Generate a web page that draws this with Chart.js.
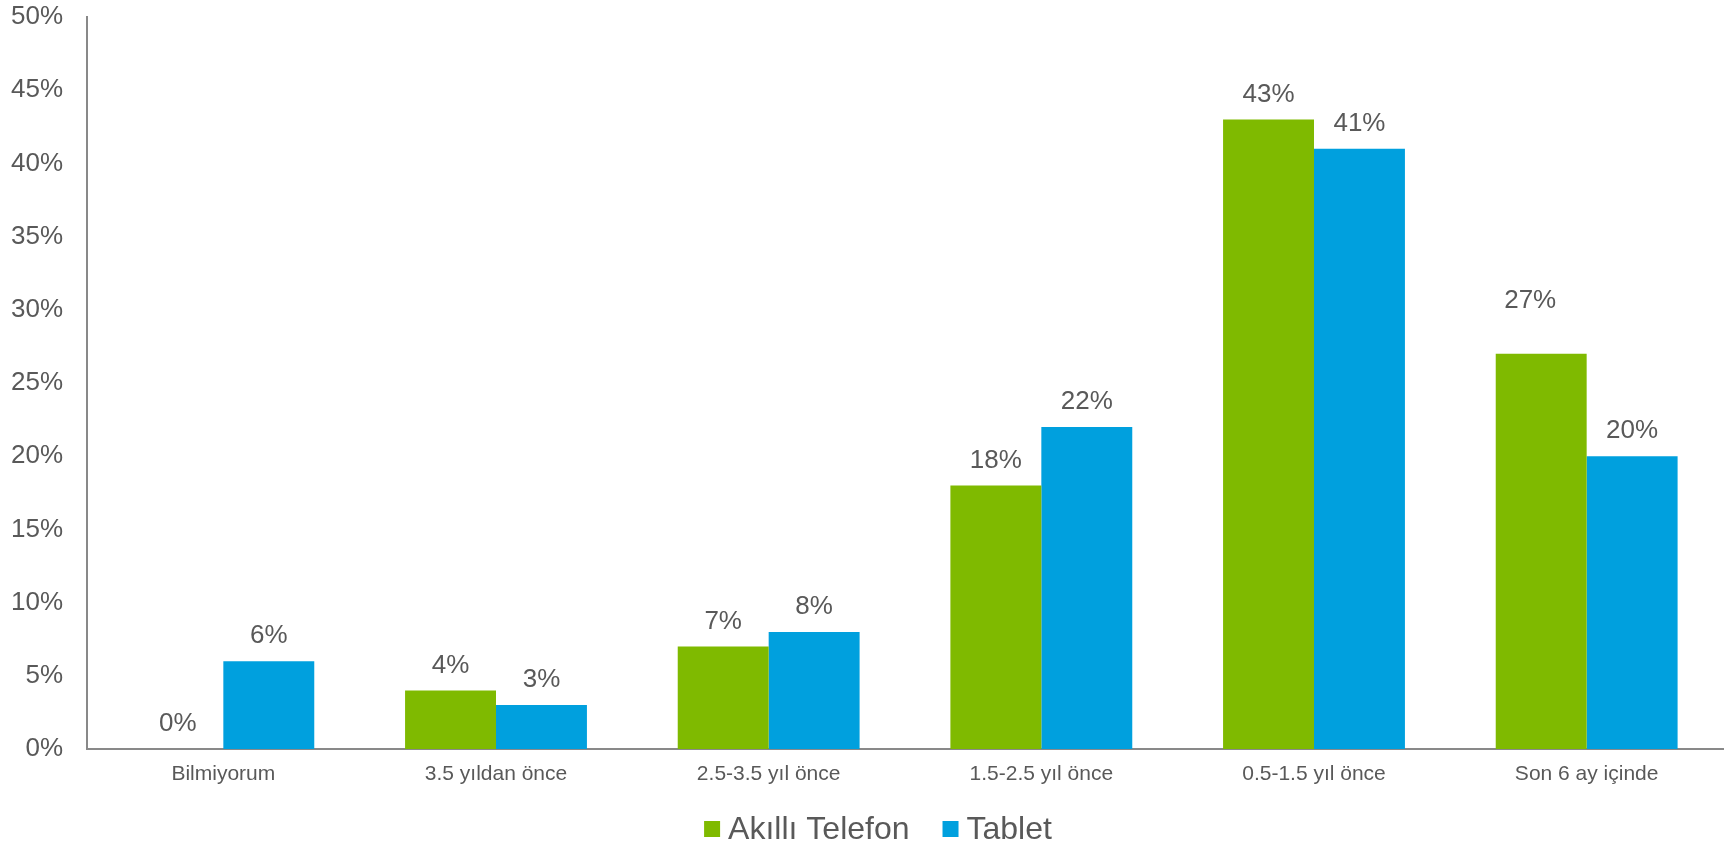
<!DOCTYPE html>
<html lang="tr">
<head>
    <meta charset="UTF-8">
    <title>Akıllı Telefon / Tablet</title>
    <script src="https://cdn.jsdelivr.net/npm/chart.js"></script>
    <style>
        html, body { margin: 0; padding: 0; background: #fff; }
        .wrap { width: 1726px; height: 845px; }
    </style>
</head>
<body>
    <div class="wrap"><canvas id="chart"></canvas></div>

    <script>
        // data
        const categories = ['Bilmiyorum', '3.5 yıldan önce', '2.5-3.5 yıl önce', '1.5-2.5 yıl önce', '0.5-1.5 yıl önce', 'Son 6 ay içinde'];
        const seriesNames = ['Akıllı Telefon', 'Tablet'];
        const phoneValues = [0, 4, 7, 18, 43, 27];
        const tabletValues = [6, 3, 8, 22, 41, 20];
        const yTicks = [0, 5, 10, 15, 20, 25, 30, 35, 40, 45, 50];

        const textColor = '#595959';
        const axisColor = '#898989';
        const fontFamily = '"Liberation Sans", Arial, sans-serif';

        // values above the bars
        const valueLabels = {
            id: 'valueLabels',
            afterDatasetsDraw(chart) {
                const ctx = chart.ctx;
                ctx.save();
                ctx.fillStyle = textColor;
                ctx.font = '26px ' + fontFamily;
                ctx.textAlign = 'center';
                ctx.textBaseline = 'middle';
                chart.data.datasets.forEach((ds, di) => {
                    chart.getDatasetMeta(di).data.forEach((bar, i) => {
                        let dx = 0, dy = 0;
                        // the 27% label sits higher in the original
                        if (di === 0 && i === 5) { dx = -11; dy = -28; }
                        ctx.fillText(ds.data[i] + '%', bar.x + dx, bar.y - 25 + dy);
                    });
                });
                ctx.restore();
            }
        };

        // legend under the axis, spaced like the original
        const bottomLegend = {
            id: 'bottomLegend',
            afterDraw(chart) {
                const ctx = chart.ctx;
                const box = 16, gap = 8, itemGap = 33, cy = 829, centerX = 878;
                ctx.save();
                ctx.font = '32px ' + fontFamily;
                ctx.textBaseline = 'middle';
                const widths = chart.data.datasets.map(ds => box + gap + ctx.measureText(ds.label).width);
                const total = widths.reduce((a, b) => a + b, 0) + itemGap * (widths.length - 1);
                let x = centerX - total / 2;
                chart.data.datasets.forEach((ds, i) => {
                    ctx.fillStyle = ds.backgroundColor;
                    ctx.fillRect(x, cy - box / 2, box, box);
                    ctx.fillStyle = textColor;
                    ctx.fillText(ds.label, x + box + gap, cy + 1);
                    x += widths[i] + itemGap;
                });
                ctx.restore();
            }
        };

        new Chart(document.getElementById('chart').getContext('2d'), {
            type: 'bar',
            data: {
                labels: categories,
                datasets: [{
                    label: seriesNames[0],
                    data: phoneValues,
                    backgroundColor: '#7FBA00',
                    categoryPercentage: 0.667,
                    barPercentage: 1
                }, {
                    label: seriesNames[1],
                    data: tabletValues,
                    backgroundColor: '#00A0DE',
                    categoryPercentage: 0.667,
                    barPercentage: 1
                }]
            },
            options: {
                responsive: true,
                maintainAspectRatio: false,
                animation: false,
                layout: { padding: { top: 17, right: 3, left: 0, bottom: 0 } },
                scales: {
                    x: {
                        afterFit(scale) { scale.height = 96; },
                        grid: { display: false, drawTicks: false },
                        border: { display: true, color: axisColor, width: 2 },
                        ticks: {
                            color: textColor,
                            padding: 13,
                            maxRotation: 0,
                            font: { family: fontFamily, size: 21 }
                        }
                    },
                    y: {
                        min: 0,
                        max: 50,
                        afterFit(scale) {
                            scale.width = 87;
                            scale.paddingTop = 0;
                            scale.paddingBottom = 0;
                        },
                        afterBuildTicks(scale) { scale.ticks = yTicks.map(v => ({ value: v })); },
                        grid: { display: false, drawTicks: false },
                        border: { display: true, color: axisColor, width: 2 },
                        ticks: {
                            color: textColor,
                            padding: 24,
                            callback: v => v + '%',
                            font: { family: fontFamily, size: 26 }
                        }
                    }
                },
                plugins: {
                    legend: { display: false },
                    tooltip: { enabled: false }
                }
            },
            plugins: [valueLabels, bottomLegend]
        });
    </script>
</body>
</html>
